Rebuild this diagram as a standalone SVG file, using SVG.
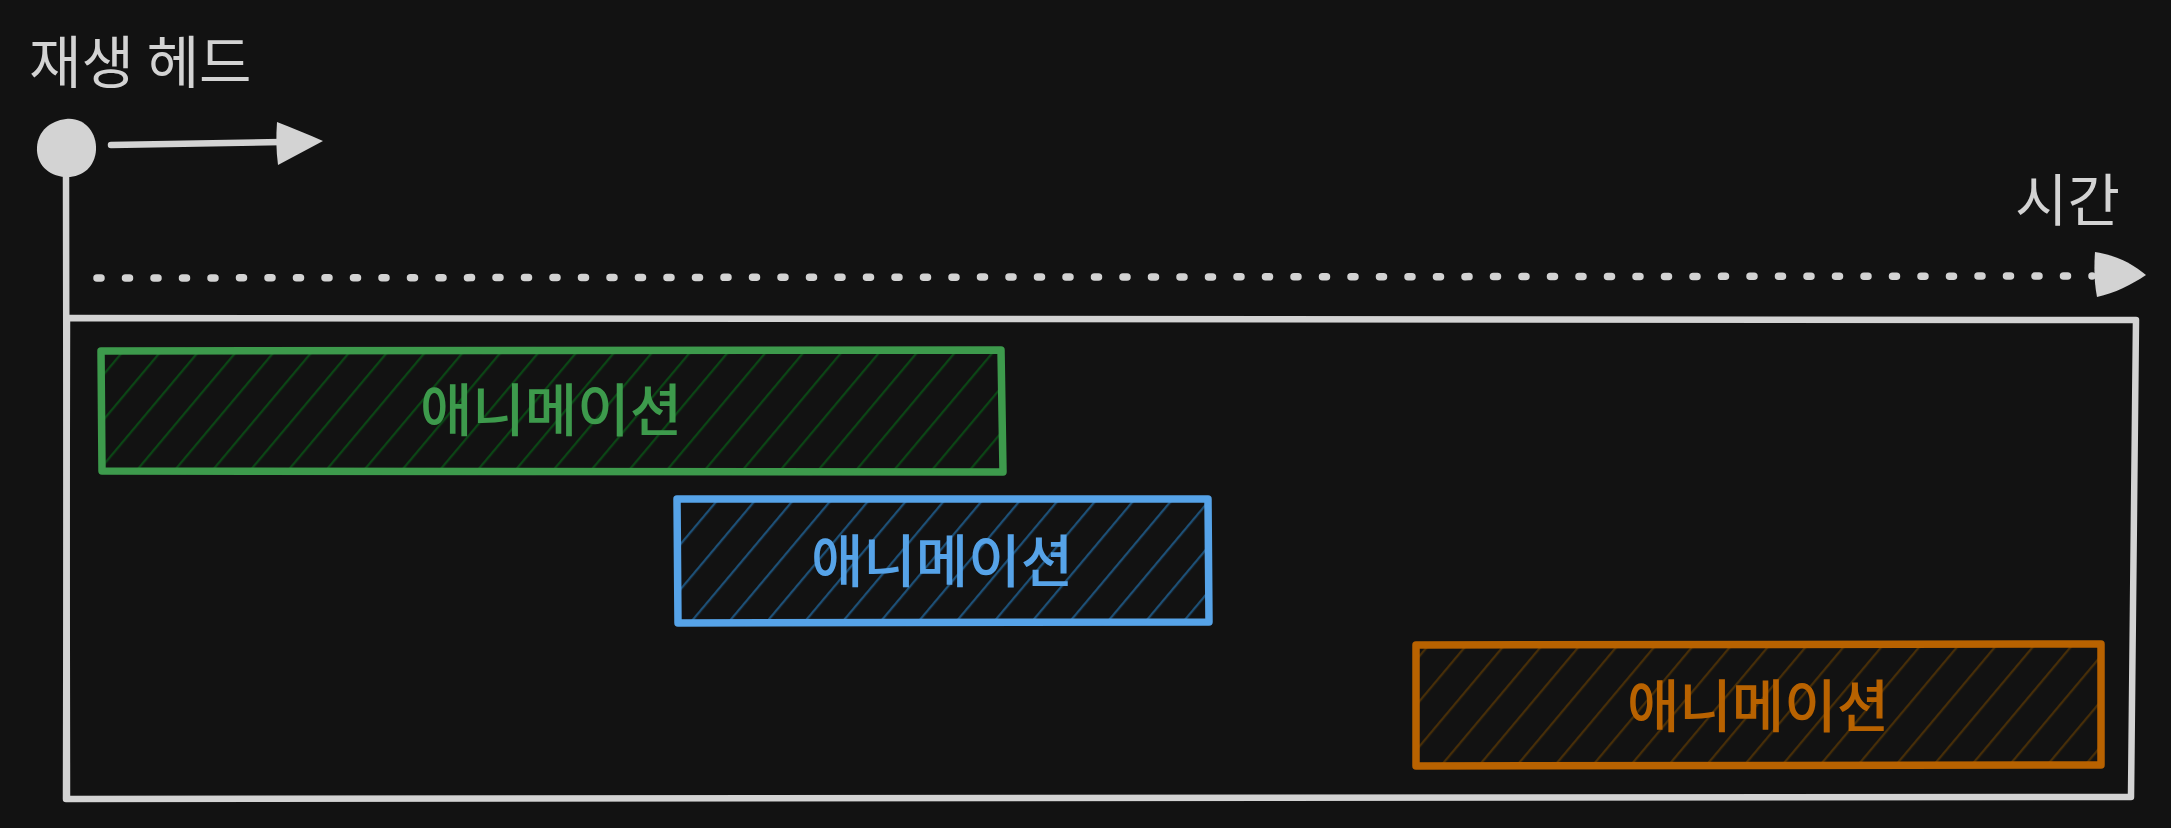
<svg xmlns="http://www.w3.org/2000/svg" width="2171" height="828" viewBox="0 0 2171 828">
  <style>
    .lbl { font-family: "Noto Sans CJK KR", "Noto Sans", sans-serif; font-size: 57px; font-weight: 500; }
    .gray { fill: #d3d3d3; }
    .head { font-weight: 400; }
    .stroke-gray { stroke: #d3d3d3; fill: none; stroke-width: 6.5; stroke-linecap: round; stroke-linejoin: round; }
    .anim { stroke-width: 7.5; stroke-linejoin: round; stroke-linecap: round; fill: none; }
  </style>
  <defs>
    <pattern id="hatch-green" patternUnits="userSpaceOnUse" width="29" height="29" patternTransform="rotate(40)">
      <line x1="0" y1="-2" x2="0" y2="31" stroke="#0b4615" stroke-width="4.5"/>
    </pattern>
    <pattern id="hatch-blue" patternUnits="userSpaceOnUse" width="29" height="29" patternTransform="rotate(40)">
      <line x1="0" y1="-2" x2="0" y2="31" stroke="#1d5077" stroke-width="4.5"/>
    </pattern>
    <pattern id="hatch-orange" patternUnits="userSpaceOnUse" width="29" height="29" patternTransform="rotate(40)">
      <line x1="0" y1="-2" x2="0" y2="31" stroke="#472e08" stroke-width="4.5"/>
    </pattern>
  </defs>
  <rect x="0" y="0" width="2171" height="828" fill="#121212"/>

  <g id="playhead">
    <text class="lbl head gray" x="29" y="83">재생 헤드</text>
    <path class="gray" d="M66,119 C84,117 97,132 96,150 C95,167 82,178 65,177 C48,176 36,164 37,147 C38,131 50,121 66,119 Z"/>
  </g>

  <g id="time-label">
    <text class="lbl head gray" x="2015" y="221">시간</text>
  </g>

  <g id="timeline-box">
    <path class="stroke-gray" d="M67,318 L2136,320 L2131,797 L66,799 Z"/>
  </g>

  <g id="anim-green">
    <rect x="101" y="351" width="901" height="121" fill="url(#hatch-green)"/>
    <path class="anim" stroke="#3d9a4c" d="M101,351 L1001,350 L1003,472 L102,471 Z"/>
    <text class="lbl" fill="#3d9a4c" x="551" y="431" text-anchor="middle">애니메이션</text>
  </g>

  <g id="anim-blue">
    <rect x="677" y="499" width="532" height="124" fill="url(#hatch-blue)"/>
    <path class="anim" stroke="#56a3e8" d="M677,499 L1208,499 L1209,622 L678,623 Z"/>
    <text class="lbl" fill="#56a3e8" x="942" y="582" text-anchor="middle">애니메이션</text>
  </g>

  <g id="anim-orange">
    <rect x="1416" y="645" width="686" height="121" fill="url(#hatch-orange)"/>
    <path class="anim" stroke="#b86200" d="M1416,645 L2101,644 L2101,765 L1416,766 Z"/>
    <text class="lbl" fill="#b86200" x="1758" y="727" text-anchor="middle">애니메이션</text>
  </g>

  <g id="connectors">
    <line class="stroke-gray" x1="66" y1="175" x2="67" y2="798"/>
    <line class="stroke-gray" x1="111" y1="145" x2="282" y2="142"/>
    <path class="gray" d="M277,122 C292,128 308,134 323,141 C308,149 293,157 278,165 C276,150 276,136 277,122 Z"/>
    <line x1="97" y1="278" x2="2092" y2="276" stroke="#d3d3d3" stroke-width="7.5" stroke-linecap="round" stroke-dasharray="4 24.5"/>
    <path class="gray" d="M2095,252 C2116,255 2133,264 2146,275 C2131,285 2115,293 2097,297 C2094,282 2094,266 2095,252 Z"/>
  </g>
</svg>
